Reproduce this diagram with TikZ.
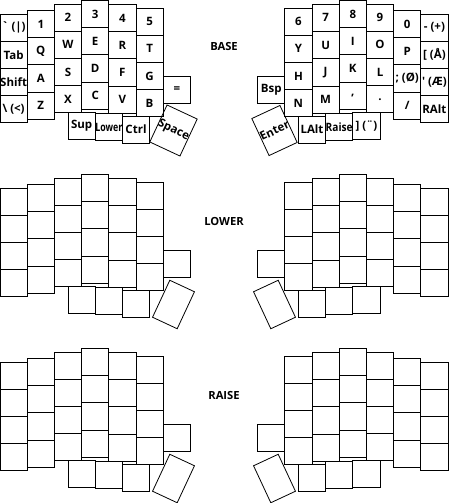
\documentclass[tikz,border=0pt]{standalone}
\usepackage{fontspec}
\usepackage{graphicx}
\newfontfamily\keyfont{Open Sans}
\newfontfamily\layerfont{Open Sans}
\newsavebox\kbox
\newcommand\fitw[1]{\sbox\kbox{#1}\ifdim\wd\kbox>27pt\resizebox{27pt}{\height}{\usebox\kbox}\else\usebox\kbox\fi}
\newcommand\kk[4]{\node[keybox] (#1) at (#2,#3) {\fitw{#4}};}
\begin{document}
\begin{tikzpicture}[x=1pt,y=-1pt,
  keybox/.style={draw, line width=0.8pt, minimum width=27.2pt, minimum height=27.2pt, inner sep=0pt,
    font=\keyfont\bfseries\fontsize{11.5}{13}\selectfont},
  longkey/.style={keybox, minimum height=40.8pt},
  layerlabel/.style={font=\layerfont\bfseries\fontsize{11.2}{13}\selectfont, inner sep=0pt}]
\useasboundingbox (0,0) rectangle (448,503);
% ---------- BASE layer, left half ----------
\kk{b00}{13.6}{27.6}{\symbol{"60} (|)}
\kk{b01}{13.6}{54.8}{Tab}
\kk{b02}{13.6}{82.0}{Shift}
\kk{b03}{13.6}{109.2}{\textbackslash\ (<)}
\kk{b10}{40.8}{23.9}{1}
\kk{b11}{40.8}{51.1}{Q}
\kk{b12}{40.8}{78.3}{A}
\kk{b13}{40.8}{105.5}{Z}
\kk{b20}{68}{17.6}{2}
\kk{b21}{68}{44.8}{W}
\kk{b22}{68}{72.0}{S}
\kk{b23}{68}{99.2}{X}
\kk{b30}{95.2}{13.9}{3}
\kk{b31}{95.2}{41.1}{E}
\kk{b32}{95.2}{68.3}{D}
\kk{b33}{95.2}{95.5}{C}
\kk{b40}{122.4}{17.9}{4}
\kk{b41}{122.4}{45.1}{R}
\kk{b42}{122.4}{72.3}{F}
\kk{b43}{122.4}{99.5}{V}
\kk{b50}{149.6}{21.6}{5}
\kk{b51}{149.6}{48.8}{T}
\kk{b52}{149.6}{76.0}{G}
\kk{b53}{149.6}{103.2}{B}
\kk{beq}{176.8}{89.6}{=}
\kk{bsup}{81.6}{126.1}{Sup}
\kk{blower}{108.8}{127.1}{Lower}
\kk{bctrl}{136}{129.6}{Ctrl}
\node[longkey, rotate=-25] (bspace) at (173.5,130.5) {Space};
% ---------- BASE layer, right half ----------
\kk{r50}{298.4}{21.6}{6}
\kk{r51}{298.4}{48.8}{Y}
\kk{r52}{298.4}{76.0}{H}
\kk{r53}{298.4}{103.2}{N}
\kk{r40}{325.6}{17.9}{7}
\kk{r41}{325.6}{45.1}{U}
\kk{r42}{325.6}{72.3}{J}
\kk{r43}{325.6}{99.5}{M}
\kk{r30}{352.8}{13.9}{8}
\kk{r31}{352.8}{41.1}{I}
\kk{r32}{352.8}{68.3}{K}
\kk{r33}{352.8}{95.5}{,}
\kk{r20}{380}{17.6}{9}
\kk{r21}{380}{44.8}{O}
\kk{r22}{380}{72.0}{L}
\kk{r23}{380}{99.2}{.}
\kk{r10}{407.2}{23.9}{0}
\kk{r11}{407.2}{51.1}{P}
\kk{r12}{407.2}{78.3}{; (Ø)}
\kk{r13}{407.2}{105.5}{/}
\kk{r00}{434.4}{27.6}{- (+)}
\kk{r01}{434.4}{54.8}{[ (Å)}
\kk{r02}{434.4}{82.0}{\symbol{"27} (Æ)}
\kk{r03}{434.4}{109.2}{RAlt}
\kk{rbsp}{271.2}{89.6}{Bsp}
\kk{rbr}{366.4}{126.1}{] (¨)}
\kk{rraise}{339.2}{127.1}{Raise}
\kk{rlalt}{312}{129.6}{LAlt}
\node[longkey, rotate=25] (renter) at (274.5,130.5) {Enter};
% ---------- LOWER and RAISE layers ----------
\foreach \ly/\off in {1/174, 2/348} {
  \foreach \c/\x/\t in {0/13.6/14, 1/40.8/10.3, 2/68/4, 3/95.2/0.3, 4/122.4/4.3, 5/149.6/8} {
    \foreach \r in {0,...,3} {
      \node[keybox] (L\ly c\c r\r) at (\x, {\t+13.6+27.2*\r+\off}) {};
      \node[keybox] (R\ly c\c r\r) at ({448-\x}, {\t+13.6+27.2*\r+\off}) {};
    }
  }
  \node[keybox] (L\ly x) at (176.8, {89.6+\off}) {};
  \node[keybox] (R\ly x) at (271.2, {89.6+\off}) {};
  \foreach \i/\x/\y in {1/81.6/126.1, 2/108.8/127.1, 3/136/129.6} {
    \node[keybox] (L\ly t\i) at (\x, {\y+\off}) {};
    \node[keybox] (R\ly t\i) at ({448-\x}, {\y+\off}) {};
  }
  \node[longkey, rotate=-25] (L\ly sp) at (173.5, {130.5+\off}) {};
  \node[longkey, rotate=25] (R\ly sp) at (274.5, {130.5+\off}) {};
}
% ---------- layer labels ----------
\node[layerlabel] (tbase) at (224,47) {BASE};
\node[layerlabel] (tlower) at (224,221) {LOWER};
\node[layerlabel] (traise) at (224,395.5) {RAISE};
\end{tikzpicture}
\end{document}
